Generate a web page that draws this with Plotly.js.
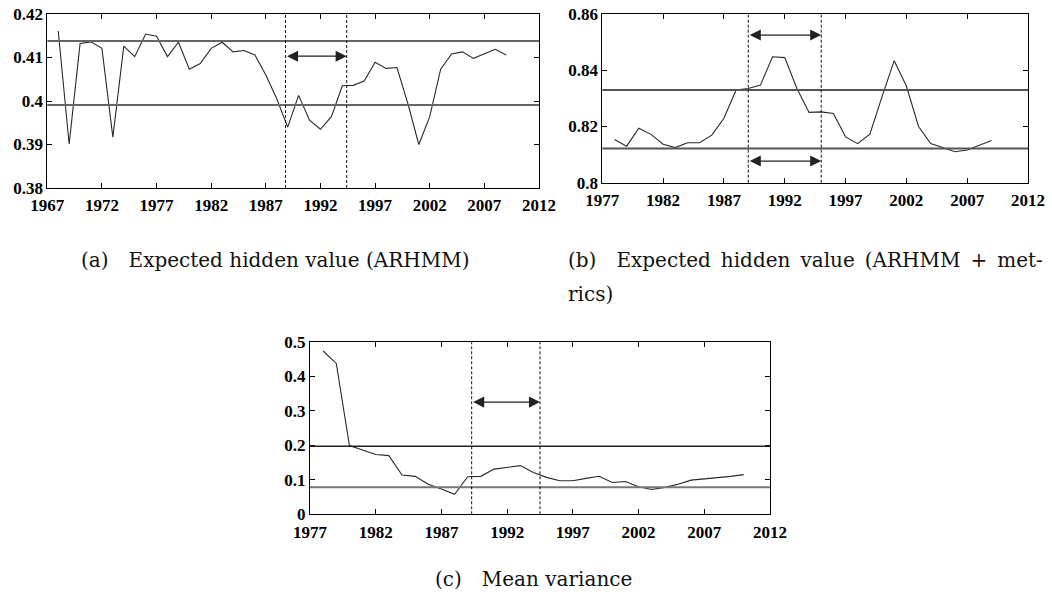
<!DOCTYPE html>
<html>
<head>
<meta charset="utf-8">
<script src="https://cdn.plot.ly/plotly-3.0.1.min.js"></script>
<style>html,body{margin:0;padding:0;background:#fff;}#chart{width:1052px;height:600px;}</style>
</head>
<body>
<div id="chart"></div>
<script>
// ---------- data ----------
const yearsA = [1968,1969,1970,1971,1972,1973,1974,1975,1976,1977,1978,1979,1980,1981,1982,1983,1984,1985,1986,1987,1988,1989,1990,1991,1992,1993,1994,1995,1996,1997,1998,1999,2000,2001,2002,2003,2004,2005,2006,2007,2008,2009];
const hiddenA = [0.4161,0.3901,0.4132,0.4136,0.4121,0.3917,0.4126,0.4102,0.4154,0.4149,0.4102,0.4135,0.4073,0.4086,0.4121,0.4135,0.4113,0.4116,0.4106,0.4060,0.4005,0.3940,0.4013,0.3956,0.3935,0.3964,0.4035,0.4036,0.4046,0.4089,0.4075,0.4077,0.3994,0.3900,0.3964,0.4073,0.4108,0.4113,0.4098,0.4108,0.4119,0.4106];
const thresholdsA = [0.4138, 0.3991];
const breaksA = [1988.8, 1994.4];
const arrowYA = [0.4103];

const yearsB = [1978,1979,1980,1981,1982,1983,1984,1985,1986,1987,1988,1989,1990,1991,1992,1993,1994,1995,1996,1997,1998,1999,2000,2001,2002,2003,2004,2005,2006,2007,2008,2009];
const hiddenB = [0.8154,0.8130,0.8194,0.8172,0.8137,0.8125,0.8142,0.8142,0.8169,0.8229,0.8330,0.8335,0.8347,0.8448,0.8445,0.8335,0.8250,0.8252,0.8246,0.8163,0.8139,0.8173,0.8306,0.8434,0.8344,0.8200,0.8139,0.8124,0.8110,0.8116,0.8134,0.8150];
const thresholdsB = [0.8330, 0.8122];
const breaksB = [1989.0, 1995.0];
const arrowYB = [0.8525, 0.8077];

const yearsC = [1978,1979,1980,1981,1982,1983,1984,1985,1986,1987,1988,1989,1990,1991,1992,1993,1994,1995,1996,1997,1998,1999,2000,2001,2002,2003,2004,2005,2006,2007,2008,2009,2010];
const varianceC = [0.473,0.437,0.199,0.187,0.173,0.170,0.114,0.110,0.087,0.073,0.058,0.109,0.110,0.131,0.136,0.141,0.121,0.107,0.097,0.097,0.104,0.110,0.092,0.095,0.080,0.072,0.078,0.087,0.099,0.102,0.106,0.110,0.115];
const thresholdsC = [0.197, 0.078];
const breaksC = [1989.3, 1994.5];
const arrowYC = [0.325];

const xTicksA = [1967,1972,1977,1982,1987,1992,1997,2002,2007,2012];
const xTicksBC = [1977,1982,1987,1992,1997,2002,2007,2012];
const yTicksA = [0.38,0.39,0.40,0.41,0.42];
const yTickTextA = ['0.38','0.39','0.4','0.41','0.42'];
const yTicksB = [0.80,0.82,0.84,0.86];
const yTickTextB = ['0.8','0.82','0.84','0.86'];
const yTicksC = [0,0.1,0.2,0.3,0.4,0.5];
const yTickTextC = ['0','0.1','0.2','0.3','0.4','0.5'];

const captions = ['(a)\u2003Expected hidden value (ARHMM)', '(b)\u2003Expected\u2002hidden\u2002value\u2002(ARHMM\u2002+\u2002met-', 'rics)', '(c)\u2003Mean variance'];

// ---------- helpers ----------
const W = 1052, H = 600;
const px = v => v / W;
const py = v => 1 - v / H;
const tickFont = {family: 'Liberation Serif, Times New Roman, serif', size: 17, color: '#000', weight: 'bold'};

function xAxis(d0, d1, range, vals, anchor) {
  return {domain: [px(d0), px(d1)], range: range, tickmode: 'array', tickvals: vals, ticktext: vals.map(String),
    showline: true, mirror: 'ticks', linecolor: '#000', linewidth: 1, ticks: 'inside', ticklen: 5, tickcolor: '#000',
    showgrid: false, zeroline: false, tickfont: tickFont, anchor: anchor, fixedrange: true, ticklabelstandoff: 2};
}
function yAxis(t, b, range, vals, text, anchor) {
  return {domain: [py(b), py(t)], range: range, tickmode: 'array', tickvals: vals, ticktext: text,
    showline: true, mirror: 'ticks', linecolor: '#000', linewidth: 1, ticks: 'inside', ticklen: 5, tickcolor: '#000',
    showgrid: false, zeroline: false, tickfont: tickFont, anchor: anchor, fixedrange: true};
}

const lineStyle = {color: '#2a2a2a', width: 1.1};
const traces = [
  {x: yearsA, y: hiddenA, type: 'scatter', mode: 'lines', line: lineStyle, xaxis: 'x', yaxis: 'y', hoverinfo: 'skip'},
  {x: yearsB, y: hiddenB, type: 'scatter', mode: 'lines', line: lineStyle, xaxis: 'x2', yaxis: 'y2', hoverinfo: 'skip'},
  {x: yearsC, y: varianceC, type: 'scatter', mode: 'lines', line: lineStyle, xaxis: 'x3', yaxis: 'y3', hoverinfo: 'skip'}
];

const shapes = [];
function hlines(vals, xa, ya, colors, widths) {
  vals.forEach((v, i) => shapes.push({type: 'line', xref: xa + ' domain', yref: ya, x0: 0, x1: 1, y0: v, y1: v,
    line: {color: colors[i], width: widths[i]}}));
}
function vlines(vals, xa, ya) {
  vals.forEach(v => shapes.push({type: 'line', xref: xa, yref: ya + ' domain', x0: v, x1: v, y0: 0, y1: 1,
    line: {color: '#111', width: 1, dash: '3px,2px'}}));
}
hlines(thresholdsA, 'x', 'y', ['#666', '#666'], [2, 2]);
hlines(thresholdsB, 'x2', 'y2', ['#555', '#555'], [2, 2]);
hlines(thresholdsC, 'x3', 'y3', ['#222', '#777'], [1.5, 2]);
vlines(breaksA, 'x', 'y');
vlines(breaksB, 'x2', 'y2');
vlines(breaksC, 'x3', 'y3');

const annotations = [];
function arrows(ys, breaks, xa, ya) {
  ys.forEach(v => annotations.push({x: breaks[1], y: v, ax: breaks[0], ay: v, xref: xa, yref: ya, axref: xa, ayref: ya,
    text: '', showarrow: true, arrowside: 'end+start', arrowhead: 2, startarrowhead: 2, arrowsize: 1.7, startarrowsize: 1.7,
    arrowwidth: 1.3, arrowcolor: '#222', standoff: 0, startstandoff: 0}));
}
arrows(arrowYA, breaksA, 'x', 'y');
arrows(arrowYB, breaksB, 'x2', 'y2');
arrows(arrowYC, breaksC, 'x3', 'y3');

const capFont = {family: 'DejaVu Serif, serif', size: 20, color: '#111'};
const capPos = [[79, 260], [566, 260], [566, 294], [433, 579]];
captions.forEach((c, i) => annotations.push({text: c, xref: 'paper', yref: 'paper', x: px(capPos[i][0]), y: py(capPos[i][1]),
  xanchor: 'left', yanchor: 'middle', showarrow: false, font: capFont}));

const layout = {
  width: W, height: H, margin: {l: 0, r: 0, t: 0, b: 0}, paper_bgcolor: '#fff', plot_bgcolor: '#fff', showlegend: false,
  xaxis: xAxis(47.3, 539, [1967, 2012], xTicksA, 'y'),
  yaxis: yAxis(14, 188, [0.38, 0.42], yTicksA, yTickTextA, 'x'),
  xaxis2: xAxis(602.3, 1028, [1977, 2012], xTicksBC, 'y2'),
  yaxis2: yAxis(14, 182.7, [0.8, 0.86], yTicksB, yTickTextB, 'x2'),
  xaxis3: xAxis(310, 770, [1977, 2012], xTicksBC, 'y3'),
  yaxis3: yAxis(341.7, 514.3, [0, 0.5], yTicksC, yTickTextC, 'x3'),
  shapes: shapes, annotations: annotations
};
Plotly.newPlot('chart', traces, layout, {staticPlot: true, displayModeBar: false});
</script>
</body>
</html>
